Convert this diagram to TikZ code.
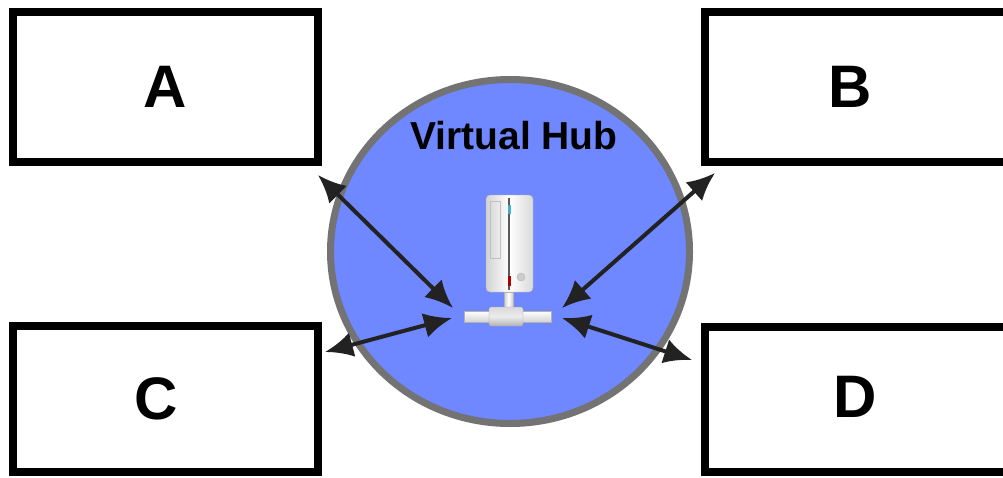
\documentclass[tikz,border=0pt]{standalone}
\usepackage{fontspec}
\setmainfont{Liberation Sans}
\usepackage{xcolor}
\usepackage{tikz}
\usetikzlibrary{arrows.meta,shapes.geometric}
\definecolor{hubblue}{RGB}{111,135,255}
\definecolor{hubrim}{RGB}{115,115,115}
\definecolor{arrowgray}{RGB}{34,34,34}
\tikzstyle{termbox}=[rectangle,draw=black,fill=white,line width=8pt,minimum width=305pt,minimum height=150pt,inner sep=0pt,font=\fontsize{60}{60}\selectfont\bfseries]
\tikzstyle{hubring}=[ellipse,draw=hubrim,fill=hubblue,line width=7pt,minimum width=359pt,minimum height=344pt,inner sep=0pt]
\tikzstyle{link}=[{Latex[length=28pt,width=25pt]}-{Latex[length=28pt,width=25pt]},line width=4pt,draw=arrowgray,shorten <=0pt,shorten >=0pt]

\begin{document}
\begin{tikzpicture}[x=1pt,y=-1pt]
        \clip (0,0) rectangle (1003,477);
        \fill[white] (0,0) rectangle (1003,477);
        \node at (510,251.5) [hubring] (hub) {};
        \node at (165.5,87) [termbox] (A) {A};
        \node at (857.5,87) [termbox] (B) {};
        \node at (850,87) (Blabel) {\fontsize{60}{60}\selectfont\bfseries B};
        \node at (165.5,399) [termbox,minimum height=146pt] (C) {};
        \node at (156,399) (Clabel) {\fontsize{60}{60}\selectfont\bfseries C};
        \node at (857.5,399.5) [termbox,minimum height=145pt] (D) {};
        \node at (855,397) (Dlabel) {\fontsize{60}{60}\selectfont\bfseries D};
        \node at (514,136) (title) {\fontsize{39}{39}\selectfont\bfseries Virtual Hub};
        % server
        \draw[gray!60,shade,left color=gray!35,right color=gray!30,middle color=white,rounded corners=4pt]
          (486,195) rectangle (533,292);
        \draw[gray!50,line width=0.5pt] (490,201) rectangle (500,258);
        \draw[gray!70!black,line width=1.2pt] (509,198) -- (509,290);
        \fill[cyan!70!gray] (508,205) rectangle (510.5,214);
        \fill[red!70!black] (508,276) rectangle (510.5,286);
        \draw[gray!60,fill=gray!40] (521,277) circle (4);
        \draw[gray!60,shade,left color=gray!40,right color=gray!40,middle color=white] (504,292) rectangle (513,310);
        \draw[gray!60,shade,top color=white,bottom color=gray!35] (464,311) rectangle (551,322);
        \draw[gray!70,shade,top color=gray!30,bottom color=gray!60,middle color=gray!15,rounded corners=2pt] (489,307) rectangle (523,326);
        % links
        \coordinate (pA) at (318,175);
        \coordinate (pB) at (715,173);
        \coordinate (pC) at (325,352);
        \coordinate (pD) at (692,360);
        \coordinate (hA) at (453,308);
        \coordinate (hB) at (562,308);
        \coordinate (hC) at (452,318);
        \coordinate (hD) at (562,318);
        \draw [link] (pA) to (hA);
        \draw [link] (pB) to (hB);
        \draw [link] (pC) to (hC);
        \draw [link] (pD) to (hD);
      \end{tikzpicture}
\end{document}
